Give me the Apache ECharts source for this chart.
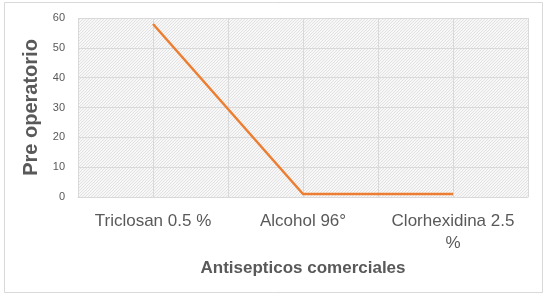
<!DOCTYPE html>
<html>
<head>
<meta charset="utf-8">
<script src="https://cdn.jsdelivr.net/npm/echarts@6/dist/echarts.min.js"></script>
<style>
  html, body { margin: 0; padding: 0; background: #fff; }
  #main { width: 546px; height: 297px; }
</style>
</head>
<body>
<div id="main"></div>
<script>
// datos
var categorias = ['Triclosan 0.5 %', 'Alcohol 96°', 'Clorhexidina 2.5\n%'];
var preOperatorio = [58, 1, 1];
var yTicks = [0, 10, 20, 30, 40, 50, 60];

// textura rayada del fondo
var tile = document.createElement('canvas');
tile.width = 3;
tile.height = 3;
var ctx = tile.getContext('2d');
ctx.fillStyle = '#f7f7f7';
ctx.fillRect(0, 0, 3, 3);
ctx.fillStyle = '#e2e2e2';
ctx.fillRect(2, 0, 1, 1);
ctx.fillRect(1, 1, 1, 1);
ctx.fillRect(0, 2, 1, 1);

var myChart = echarts.init(document.getElementById('main'));
var option = {
  animation: false,
  textStyle: { fontFamily: 'Liberation Sans' },
  graphic: [{
    type: 'rect',
    shape: { x: 4.5, y: 2.5, width: 538, height: 290 },
    style: { fill: 'none', stroke: '#d9d9d9', lineWidth: 1 }
  }],
  grid: {
    left: 78, right: 18, top: 18, bottom: 100,
    show: true,
    borderWidth: 0,
    backgroundColor: { image: tile, repeat: 'repeat' }
  },
  xAxis: [{
    type: 'category',
    data: categorias,
    boundaryGap: true,
    name: 'Antisepticos comerciales',
    nameLocation: 'middle',
    nameGap: 63,
    nameTextStyle: { fontSize: 17, fontWeight: 'bold', color: '#595959' },
    axisLine: { lineStyle: { color: '#d9d9d9' } },
    axisTick: { show: false },
    axisLabel: { interval: 0, hideOverlap: false, fontSize: 17, color: '#595959', margin: 13, lineHeight: 22 },
    splitLine: { show: false }
  }, {
    type: 'value',
    min: 0, max: 6, interval: 1,
    position: 'bottom',
    axisLine: { show: false },
    axisTick: { show: false },
    axisLabel: { show: false },
    splitLine: { show: true, lineStyle: { color: '#d9d9d9' } }
  }],
  yAxis: {
    type: 'value',
    min: yTicks[0],
    max: yTicks[yTicks.length - 1],
    interval: 10,
    name: 'Pre operatorio',
    nameLocation: 'middle',
    nameGap: 30,
    nameTextStyle: { fontSize: 20, fontWeight: 'bold', color: '#595959' },
    axisLine: { show: false },
    axisTick: { show: false },
    axisLabel: { fontSize: 11, color: '#595959', margin: 13 },
    splitLine: { lineStyle: { color: '#d9d9d9' } }
  },
  series: [{
    name: 'Pre operatorio',
    type: 'line',
    xAxisIndex: 0,
    data: preOperatorio,
    symbol: 'none',
    lineStyle: { color: '#ed7d31', width: 2.5 }
  }]
};
myChart.setOption(option);
</script>
</body>
</html>
